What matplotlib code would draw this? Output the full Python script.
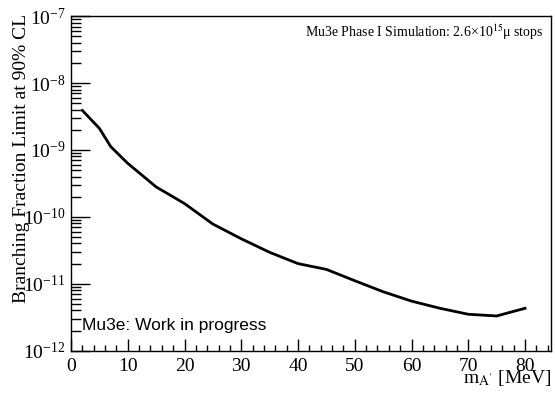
"""Mu3e dark photon branching fraction limit vs mass."""
import matplotlib

matplotlib.use("Agg")
import matplotlib.pyplot as plt
from matplotlib.ticker import LogLocator, MultipleLocator, LogFormatterMathtext

# m_A' [MeV] and 90% CL branching fraction limit
mass = [2, 5, 7, 10, 15, 20, 25, 30, 35, 40, 45, 50, 55, 60, 65, 70, 75, 80]
limit = [3.9e-9, 2.1e-9, 1.12e-9, 6.3e-10, 2.8e-10, 1.58e-10, 7.8e-11, 4.7e-11,
         2.95e-11, 2.0e-11, 1.64e-11, 1.11e-11, 7.6e-12, 5.5e-12, 4.3e-12,
         3.5e-12, 3.3e-12, 4.3e-12]

plt.rcParams["font.family"] = ["Liberation Serif", "DejaVu Serif"]
plt.rcParams["mathtext.fontset"] = "stix"

fig = plt.figure(figsize=(5.55, 3.94), dpi=100)
ax = fig.add_axes([0.128, 0.110, 0.865, 0.849])

ax.plot(mass, limit, color="black", lw=2.0)

ax.set_yscale("log")
ax.set_ylim(1e-12, 1e-7)
ax.set_xlim(0, 84.6)

ax.xaxis.set_major_locator(MultipleLocator(10))
ax.xaxis.set_minor_locator(MultipleLocator(2))
ax.yaxis.set_major_locator(LogLocator(base=10, numticks=10))
ax.yaxis.set_minor_locator(LogLocator(base=10, subs=range(2, 10), numticks=10))
ax.yaxis.set_major_formatter(LogFormatterMathtext())

ax.tick_params(axis="both", which="both", direction="in", top=False, right=False,
               labelsize=14, width=1.0)
ax.tick_params(axis="y", which="major", length=14, pad=4)
ax.tick_params(axis="y", which="minor", length=7)
ax.tick_params(axis="x", which="major", length=9, pad=5)
ax.tick_params(axis="x", which="minor", length=4.5)
for sp in ax.spines.values():
    sp.set_linewidth(1.0)

fig.text(0.038, 0.965, "Branching Fraction Limit at 90% CL", rotation=90,
         ha="center", va="top", fontsize=14)
fig.text(0.993, 0.028, r"m$_{\mathrm{A'}}$ [MeV]", ha="right", va="baseline",
         fontsize=14)

ax.text(0.985, 0.982, "Mu3e Phase I Simulation: 2.6×10$^{15}$μ stops",
        transform=ax.transAxes, ha="right", va="top", fontsize=10)
ax.text(0.023, 0.062, "Mu3e: Work in progress", transform=ax.transAxes,
        ha="left", va="baseline", fontsize=12.5, family=["Liberation Sans"])

fig.savefig("out.png", dpi=100)
